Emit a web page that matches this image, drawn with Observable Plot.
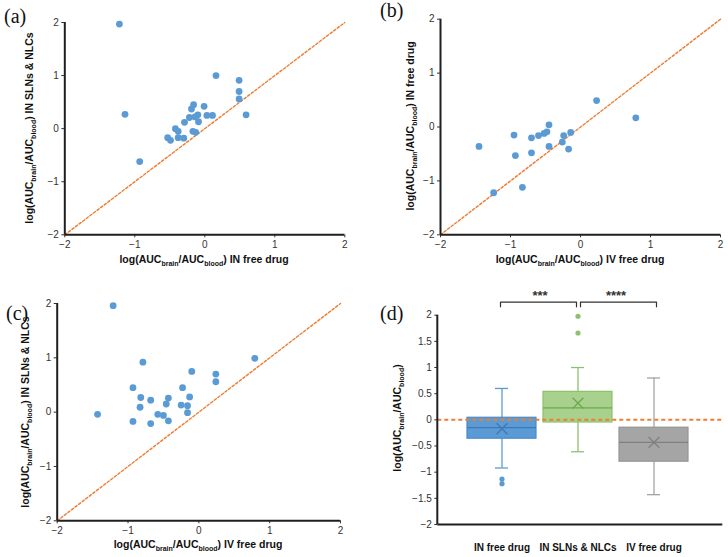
<!DOCTYPE html>
<html>
<head>
<meta charset="utf-8">
<script src="https://cdn.jsdelivr.net/npm/d3@7"></script>
<script src="https://cdn.jsdelivr.net/npm/@observablehq/plot@0.6"></script>
<style>
  body { margin: 0; background: white; }
  #wrap { position: relative; width: 728px; height: 557px; background: white; overflow: hidden; }
  #wrap svg { position: absolute; }
  .plabel { position: absolute; font-family: "Liberation Serif", "DejaVu Serif", serif; font-size: 20px; color: #111; line-height: 1; }
</style>
</head>
<body>
<div id="wrap"></div>
<script>
// ---------- data ----------
// Panel (a): x = IN free drug, y = IN SLNs & NLCs
const aX = [-1.22, -1.14, -0.93, 0.16, 0.49, 0.49, 0.49, 0.59, -0.01, 0.03, 0.11, -0.16, -0.19, -0.10, -0.22, -0.14, -0.09, -0.29, -0.42, -0.38, -0.38, -0.30, -0.53, -0.49, -0.17, -0.13];
const aY = [1.97, 0.27, -0.62, 1.00, 0.91, 0.70, 0.56, 0.26, 0.42, 0.25, 0.25, 0.45, 0.37, 0.26, 0.21, 0.22, 0.13, 0.12, 0.00, -0.05, -0.17, -0.18, -0.17, -0.22, -0.05, -0.07];
// Panel (b): x = IV free drug, y = IN free drug
const bX = [-1.45, -0.95, -0.93, -1.24, -0.83, -0.70, -0.70, -0.60, -0.52, -0.48, -0.45, -0.45, -0.26, -0.24, -0.14, -0.17, 0.23, 0.79];
const bY = [-0.36, -0.15, -0.53, -1.22, -1.12, -0.20, -0.48, -0.16, -0.12, -0.09, 0.04, -0.36, -0.28, -0.16, -0.10, -0.41, 0.49, 0.17];
// Panel (c): x = IV free drug, y = IN SLNs & NLCs
const cX = [-1.21, -1.43, -0.79, -0.93, -0.93, -0.82, -0.83, -0.68, -0.68, -0.58, -0.50, -0.43, -0.46, -0.43, -0.25, -0.23, -0.16, -0.16, -0.13, -0.10, 0.24, 0.24, 0.79];
const cY = [1.96, -0.04, 0.92, 0.45, -0.17, 0.27, 0.09, 0.22, -0.21, -0.04, -0.06, 0.26, 0.15, -0.16, 0.13, 0.45, 0.12, -0.01, 0.28, 0.75, 0.70, 0.56, 0.99];
const scatterTicks = [-2, -1, 0, 1, 2];
const refLine = [-2, 2];

// Panel (d): box plot summaries
const cats = ["IN free drug", "IN SLNs & NLCs", "IV free drug"];
const q1 = [-0.36, -0.05, -0.80];
const med = [-0.15, 0.23, -0.43];
const q3 = [0.04, 0.535, -0.15];
const wLo = [-0.92, -0.61, -1.43];
const wHi = [0.60, 1.00, 0.80];
const meanV = [-0.17, 0.32, -0.43];
const outCat = [0, 0, 1, 1];
const outVal = [-1.13, -1.22, 1.66, 1.98];
const boxTicks = [-2, -1.5, -1, -0.5, 0, 0.5, 1, 1.5, 2];
const sigFrom = [0, 1];
const sigTo = [1, 2];
const sigLabel = ["***", "****"];

// ---------- helpers ----------
const wrap = document.getElementById("wrap");
const FONT = "Liberation Sans, Arial, Helvetica, sans-serif";
const ORANGE = "#ED7D31";
const AXIS = "#1f1f1f";
const minus = d => String(d).replace("-", "\u2212");

function place(svg, left, top) {
  svg.style.left = left + "px";
  svg.style.top = top + "px";
  wrap.appendChild(svg);
}

function aucLabel(svg, x, y, rotate, suffix) {
  const t = d3.select(svg).append("text")
    .attr("transform", `translate(${x},${y}) rotate(${rotate})`)
    .attr("text-anchor", "middle")
    .attr("font-family", FONT)
    .attr("font-weight", "bold")
    .attr("font-size", 10.5)
    .attr("fill", "#111");
  t.append("tspan").text("log(AUC");
  t.append("tspan").attr("font-size", 7).attr("dy", 2.5).text("brain");
  t.append("tspan").attr("dy", -2.5).text("/AUC");
  t.append("tspan").attr("font-size", 7).attr("dy", 2.5).text("blood");
  t.append("tspan").attr("dy", -2.5).text(")" + suffix);
}

function panelLabel(text, left, top) {
  const d = document.createElement("div");
  d.className = "plabel";
  d.textContent = text;
  d.style.left = left + "px";
  d.style.top = top + "px";
  wrap.appendChild(d);
}

function scatter(xs, ys, m, h) {
  const data = xs.map((x, i) => ({x, y: ys[i]}));
  return Plot.plot({
    width: 364, height: h,
    marginLeft: m[0], marginRight: m[1], marginTop: m[2], marginBottom: m[3],
    style: {fontFamily: FONT, fontSize: "10px", color: "#333", background: "white"},
    x: {domain: [-2, 2]},
    y: {domain: [-2, 2]},
    marks: [
      Plot.axisX({ticks: scatterTicks, tickSize: 3, tickPadding: 3, tickFormat: minus, label: null, fontSize: 10}),
      Plot.axisY({ticks: scatterTicks, tickSize: 3, tickPadding: 3, tickFormat: minus, label: null, fontSize: 10}),
      Plot.line(refLine, {x: d => d, y: d => d, stroke: ORANGE, strokeWidth: 1.4, strokeDasharray: "2.5,2"}),
      Plot.dot(data, {x: "x", y: "y", r: 3.4, fill: "#5B9BD5"}),
      Plot.ruleX([-2], {stroke: AXIS, strokeWidth: 2}),
      Plot.ruleY([-2], {stroke: AXIS, strokeWidth: 2})
    ]
  });
}

// ---------- panel (a) ----------
const svgA = scatter(aX, aY, [64.3, 19.7, 22, 43.7], 278);
aucLabel(svgA, 33, 128, -90, " IN SLNs & NLCs");
aucLabel(svgA, 204, 263, 0, " IN free drug");
place(svgA, 0, 0);

// ---------- panel (b) ----------
const svgB = scatter(bX, bY, [76, 8, 18.7, 43.7], 278);
aucLabel(svgB, 50, 126, -90, " IN free drug");
aucLabel(svgB, 216, 263, 0, " IV free drug");
place(svgB, 364, 0);

// ---------- panel (c) ----------
const svgC = scatter(cX, cY, [56.7, 24, 25, 36.7], 279);
aucLabel(svgC, 29, 134, -90, " IN SLNs & NLCs");
aucLabel(svgC, 198, 270, 0, " IV free drug");
place(svgC, 0, 278);

// ---------- panel (d) ----------
const pal = [
  {fill: "#5B9BD5", stroke: "#4a8ac8", line: "#3f78b5", whisk: "#5B9BD5"},
  {fill: "#A9D18E", stroke: "#8cc06a", line: "#6fa84a", whisk: "#8cc26e"},
  {fill: "#A5A5A5", stroke: "#959595", line: "#808080", whisk: "#a5a5a5"}
];
const rows = cats.map((c, i) => ({c, q1: q1[i], med: med[i], q3: q3[i], lo: wLo[i], hi: wHi[i], mean: meanV[i]}));
const outs = outVal.map((v, i) => ({c: cats[outCat[i]], v, k: outCat[i]}));

const boxMarks = [];
rows.forEach((r, i) => {
  const p = pal[i];
  boxMarks.push(
    Plot.ruleX([r], {x: "c", y1: "q3", y2: "hi", stroke: p.whisk, strokeWidth: 1.3}),
    Plot.ruleX([r], {x: "c", y1: "lo", y2: "q1", stroke: p.whisk, strokeWidth: 1.3}),
    Plot.tickY([r], {x: "c", y: "hi", stroke: p.whisk, strokeWidth: 1.3, inset: 28}),
    Plot.tickY([r], {x: "c", y: "lo", stroke: p.whisk, strokeWidth: 1.3, inset: 28}),
    Plot.barY([r], {x: "c", y1: "q1", y2: "q3", fill: p.fill, stroke: p.stroke, strokeWidth: 1.2}),
    Plot.tickY([r], {x: "c", y: "med", stroke: p.line, strokeWidth: 1.3}),
    Plot.dot([r], {x: "c", y: "mean", symbol: "times", r: 5, stroke: p.line, strokeWidth: 1.3}),
    Plot.dot(outs.filter(o => o.k === i), {x: "c", y: "v", r: 2.6, fill: p.whisk})
  );
});

const bracketMarks = [];
sigFrom.forEach((f, i) => {
  const t = sigTo[i];
  const pts = [
    {c: cats[f], y: 2.16}, {c: cats[f], y: 2.25},
    {c: cats[t], y: 2.25}, {c: cats[t], y: 2.16}
  ];
  bracketMarks.push(
    Plot.line(pts, {x: "c", y: "y", stroke: "#333", strokeWidth: 1.2, dx: i === 0 ? -1.5 : 2.5}),
    Plot.text([{c: cats[t], s: sigLabel[i]}], {x: "c", y: () => 2.37, text: "s", dx: -38, fontSize: 13, fontWeight: "bold", fill: "#333"})
  );
});

const svgD = Plot.plot({
  width: 364, height: 279,
  marginLeft: 73.3, marginRight: 5.7, marginTop: 36.7, marginBottom: 33,
  style: {fontFamily: FONT, fontSize: "10px", color: "#333", background: "white"},
  x: {domain: cats, paddingInner: 0.087, paddingOuter: 0.4, align: 0.46},
  y: {domain: [-2, 2]},
  marks: [
    Plot.axisY({ticks: boxTicks, tickSize: 3, tickPadding: 3, tickFormat: minus, label: null, fontSize: 10}),
    Plot.axisX({tickSize: 0, tickPadding: 19, label: null, fontWeight: "bold", fontSize: 10, fill: "#111"}),
    ...boxMarks,
    Plot.ruleY([0], {stroke: ORANGE, strokeWidth: 2, strokeDasharray: "4,3"}),
    Plot.ruleY([-2], {stroke: AXIS, strokeWidth: 2}),
    ...bracketMarks
  ]
});
// left axis line of panel (d)
d3.select(svgD).append("line")
  .attr("x1", 73.3).attr("x2", 73.3).attr("y1", 36.7).attr("y2", 246)
  .attr("stroke", AXIS).attr("stroke-width", 2);
aucLabel(svgD, 37, 140, -90, "");
place(svgD, 364, 278);

// ---------- panel letters ----------
panelLabel("(a)", 4, 6);
panelLabel("(b)", 380, 0);
panelLabel("(c)", 6, 303);
panelLabel("(d)", 380, 303);
</script>
</body>
</html>
